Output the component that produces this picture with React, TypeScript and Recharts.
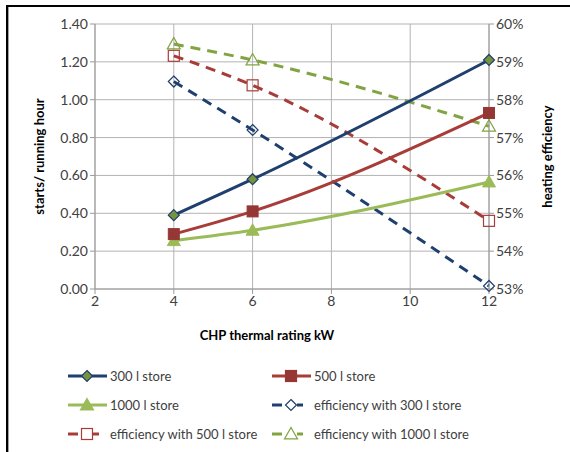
import React from "react";
import { LineChart, Line, XAxis, YAxis, CartesianGrid } from "recharts";

const ratings = [4, 6, 12];
const starts300 = [0.39, 0.58, 1.21];
const starts500 = [0.29, 0.41, 0.93];
const starts1000 = [0.255, 0.31, 0.565];
const eff300 = [58.48, 57.2, 53.08];
const eff500 = [59.16, 58.38, 54.8];
const eff1000 = [59.47, 59.05, 57.3];

const xTicks = [2, 4, 6, 8, 10, 12];
const leftTicks = [0, 0.2, 0.4, 0.6, 0.8, 1.0, 1.2, 1.4];
const rightTicks = [53, 54, 55, 56, 57, 58, 59, 60];

const data = ratings.map((x, i) => ({
  x,
  s300: starts300[i],
  s500: starts500[i],
  s1000: starts1000[i],
  e300: eff300[i],
  e500: eff500[i],
  e1000: eff1000[i],
}));

const NAVY = "#1F3F6E";
const RED = "#A83C39";
const RED_M = "#953735";
const GREEN = "#9BBB59";
const GREEN_D = "#82A342";
const FONT = "Lato, 'Open Sans', sans-serif";
const TXT = "#404040";

type Shape = "diamond" | "square" | "triangle";

function marker(shape: Shape, cx: number, cy: number, fill: string, stroke: string, sw: number, key?: any) {
  if (shape === "diamond") {
    const r = 5.5;
    return <path key={key} d={`M${cx},${cy - r}L${cx + r},${cy}L${cx},${cy + r}L${cx - r},${cy}Z`} fill={fill} stroke={stroke} strokeWidth={sw} />;
  }
  if (shape === "square") {
    const r = 5.5;
    return <rect key={key} x={cx - r} y={cy - r} width={2 * r} height={2 * r} fill={fill} stroke={stroke} strokeWidth={sw} />;
  }
  const r = 6.5;
  return <path key={key} d={`M${cx},${cy - r}L${cx + r},${cy + r * 0.75}L${cx - r},${cy + r * 0.75}Z`} fill={fill} stroke={stroke} strokeWidth={sw} />;
}

const dotFn = (shape: Shape, fill: string, stroke: string, sw: number) => (p: any) =>
  p.cx == null || p.cy == null ? <g key={p.index} /> : marker(shape, p.cx, p.cy, fill, stroke, sw, p.index);

type Entry = { label: string; color: string; dashed: boolean; shape: Shape; fill: string; stroke: string };
const legendEntries: Entry[] = [
  { label: "300 l store", color: NAVY, dashed: false, shape: "diamond", fill: "#77933C", stroke: NAVY },
  { label: "500 l store", color: RED, dashed: false, shape: "square", fill: RED_M, stroke: RED_M },
  { label: "1000 l store", color: GREEN, dashed: false, shape: "triangle", fill: GREEN, stroke: GREEN },
  { label: "efficiency with 300 l store", color: NAVY, dashed: true, shape: "diamond", fill: "none", stroke: NAVY },
  { label: "efficiency with 500 l store", color: RED, dashed: true, shape: "square", fill: "none", stroke: RED },
  { label: "efficiency with 1000 l store", color: GREEN_D, dashed: true, shape: "triangle", fill: "none", stroke: GREEN_D },
];

function LegendOverlay() {
  const cols = [68, 272];
  const rows = [376, 405, 434];
  return (
    <svg width={570} height={452} style={{ position: "absolute", left: 0, top: 0, pointerEvents: "none" }}>
      {legendEntries.map((e, i) => {
        const x = cols[i % 2];
        const y = rows[Math.floor(i / 2)];
        return (
          <g key={i}>
            {e.dashed ? (
              <>
                <line x1={x} y1={y} x2={x + 10} y2={y} stroke={e.color} strokeWidth={3} />
                <line x1={x + 25} y1={y} x2={x + 31} y2={y} stroke={e.color} strokeWidth={3} />
                {marker(e.shape, x + 19, y, "#fff", e.stroke, 1.2)}
              </>
            ) : (
              <>
                <line x1={x} y1={y} x2={x + 39} y2={y} stroke={e.color} strokeWidth={3} />
                {marker(e.shape, x + 19, y, e.fill, e.stroke, 1.2)}
              </>
            )}
            <text x={x + 42} y={y + 5} fontFamily={FONT} fontSize={13} fill={TXT}>
              {e.label}
            </text>
          </g>
        );
      })}
    </svg>
  );
}

export default function App() {
  return (
    <div style={{ position: "fixed", left: 0, top: 0, width: 570, height: 452, background: "#fff", overflow: "hidden" }}>
      <LineChart width={570} height={452} data={data} margin={{ top: 24, right: 10, bottom: 103, left: 10 }}>
        <CartesianGrid yAxisId="left" stroke="#B3B3B3" strokeWidth={1} />
        <XAxis
          dataKey="x"
          type="number"
          domain={[2, 12]}
          ticks={xTicks}
          height={60}
          stroke="#999"
          tickLine={{ stroke: "#999" }}
          tickSize={5}
          tick={{ fill: TXT, fontSize: 14, fontFamily: FONT }}
          label={{ value: "CHP thermal rating kW", position: "insideBottom", offset: 9, dx: -25, style: { fontWeight: 700, fontSize: 13, fill: "#000", fontFamily: FONT } }}
        />
        <YAxis
          yAxisId="left"
          domain={[0, 1.4]}
          ticks={leftTicks}
          width={85}
          stroke="#999"
          tickSize={5}
          tickFormatter={(v: number) => v.toFixed(2)}
          tick={{ fill: TXT, fontSize: 14, fontFamily: FONT }}
          label={{ value: "starts/ running hour", angle: -90, position: "insideLeft", offset: 29, style: { textAnchor: "middle", fontWeight: 700, fontSize: 13, fill: "#000", fontFamily: FONT } }}
        />
        <YAxis
          yAxisId="right"
          orientation="right"
          domain={[53, 60]}
          ticks={rightTicks}
          width={71}
          stroke="#999"
          tickSize={5}
          tickFormatter={(v: number) => `${v}%`}
          tick={{ fill: TXT, fontSize: 14, fontFamily: FONT }}
          label={{ value: "heating efficiency", angle: -90, position: "insideRight", offset: 13, style: { textAnchor: "middle", fontWeight: 700, fontSize: 13, fill: "#000", fontFamily: FONT } }}
        />
        <Line yAxisId="right" type="monotone" dataKey="e300" stroke={NAVY} strokeWidth={3} strokeDasharray="10 7" dot={dotFn("diamond", "none", NAVY, 1.2)} isAnimationActive={false} />
        <Line yAxisId="right" type="monotone" dataKey="e500" stroke={RED} strokeWidth={3} strokeDasharray="10 7" dot={dotFn("square", "none", RED, 1.2)} isAnimationActive={false} />
        <Line yAxisId="right" type="monotone" dataKey="e1000" stroke={GREEN_D} strokeWidth={3} strokeDasharray="10 7" dot={dotFn("triangle", "none", GREEN_D, 1.2)} isAnimationActive={false} />
        <Line yAxisId="left" type="monotone" dataKey="s1000" stroke={GREEN} strokeWidth={3} dot={dotFn("triangle", GREEN, GREEN, 1)} isAnimationActive={false} />
        <Line yAxisId="left" type="monotone" dataKey="s500" stroke={RED} strokeWidth={3} dot={dotFn("square", RED_M, RED_M, 1)} isAnimationActive={false} />
        <Line yAxisId="left" type="monotone" dataKey="s300" stroke={NAVY} strokeWidth={3} dot={dotFn("diamond", "#77933C", NAVY, 1.2)} isAnimationActive={false} />
      </LineChart>
      <LegendOverlay />
      <div style={{ position: "absolute", left: 7, top: 5, right: 0, height: 2, background: "#000" }} />
      <div style={{ position: "absolute", left: 6, top: 5, bottom: 0, width: 2, background: "#000" }} />
      <div style={{ position: "absolute", left: 8, top: 7, bottom: 0, width: 1, background: "#A0A0A0" }} />
    </div>
  );
}
